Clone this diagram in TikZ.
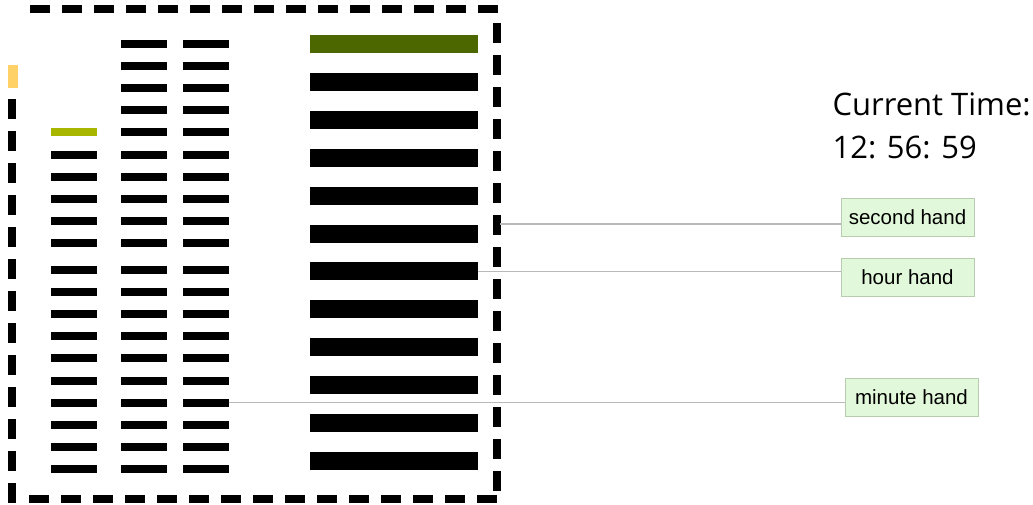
\documentclass[tikz,border=0pt]{standalone}
\usepackage{fontspec}
\setmainfont{Liberation Sans}
\newfontfamily\clockfont{Open Sans}
\usetikzlibrary{positioning}
\definecolor{minutegreen}{RGB}{168,182,0}
\definecolor{hourgreen}{RGB}{76,102,0}
\definecolor{secyellow}{RGB}{255,209,102}
\definecolor{labelfill}{RGB}{226,248,218}
\definecolor{labeldraw}{RGB}{184,204,176}
\definecolor{leadergrey}{RGB}{185,185,185}
\tikzset{
    tick/.style={
        fill=black,
        inner sep=0pt,
        minimum width=46pt,
        minimum height=8pt
    },
    bigbar/.style={
        fill=black,
        inner sep=0pt,
        minimum width=168pt,
        minimum height=18pt
    },
    handlabel/.style={
        draw=labeldraw,
        fill=labelfill,
        inner sep=0pt,
        minimum width=133pt,
        minimum height=38pt,
        font=\fontsize{20.5}{24}\selectfont
    },
    leader/.style={draw=leadergrey, line width=1.2pt},
    frame/.style={line width=8pt, dash pattern=on 20pt off 12pt}
}

\begin{document}
\begin{tikzpicture}[x=1pt, y=-1pt]
            \useasboundingbox (0,0) rectangle (1033,504);

            % Frame
            \draw [frame] (30,9) -- (501,9);
            \draw [frame] (497,23) -- (497,499);
            \draw [frame] (12,99) -- (12,503);
            \draw [frame] (29,499) -- (497,499);
            \fill [secyellow] (8,65) rectangle (18,88);

            % Small ticks
            \foreach \i in {0,...,19} {
                \pgfmathsetmacro{\yy}{\i<10 ? 44+22.1*\i : 270+22.1*(\i-10)}
                \node (c2-\i) [tick] at (143.5,\yy) {};
                \node (c3-\i) [tick] at (205.5,\yy) {};
                \ifnum\i>3
                    \node (c1-\i) [tick] at (74,\yy) {};
                \fi
            }
            \node [tick, fill=minutegreen] at (c1-4) {};

            % Big bars
            \foreach \i in {0,...,11} {
                \node (big-\i) [bigbar] at (394,44+37.9*\i) {};
            }
            \node [bigbar, fill=hourgreen] at (big-0) {};

            % Time
            \node (title) [anchor=base west, font=\clockfont\fontsize{31}{36}\selectfont]
                at (829,115) {Current Time:};
            \node (clock) [anchor=base west, font=\clockfont\fontsize{31}{36}\selectfont]
                at (829,158) {12: 56: 59};

            % Labels
            \node (second) [handlabel] at (907.5,217) {second hand};
            \node (hour) [handlabel] at (907.5,277) {hour hand};
            \node (minute) [handlabel] at (911.5,397) {minute hand};

            % Leaders
            \coordinate (sectip) at (500,224);
            \draw [leader] (sectip) -- (sectip -| second.west);
            \draw [leader] (big-6.east) -- (big-6.east -| hour.west);
            \draw [leader] (c3-16.east) -- (c3-16.east -| minute.west);
\end{tikzpicture}
\end{document}
